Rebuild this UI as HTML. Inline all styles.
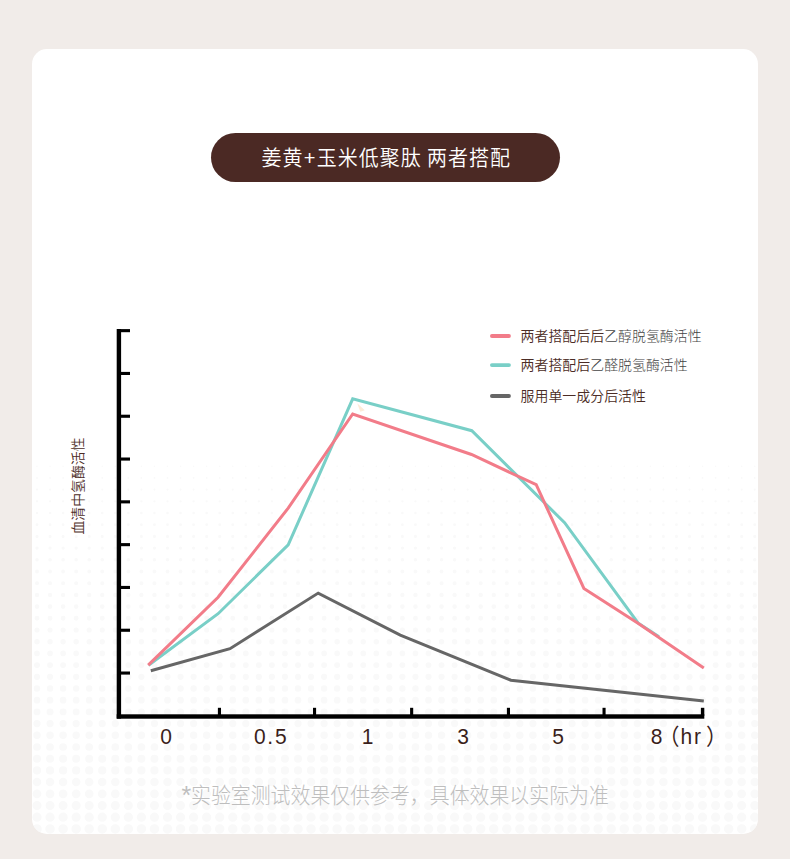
<!DOCTYPE html>
<html lang="zh-CN">
<head>
<meta charset="utf-8">
<title>姜黄+玉米低聚肽 两者搭配</title>
<style>
  html, body { margin: 0; padding: 0; }
  body {
    width: 790px; height: 859px; overflow: hidden; position: relative;
    background: #f1ece9;
    font-family: "Liberation Sans", "Noto Sans CJK SC", sans-serif;
  }
  .card {
    position: absolute; left: 32px; top: 48.5px; width: 726px; height: 785px;
    background: #ffffff; border-radius: 15px; overflow: hidden;
  }
  .pill {
    position: absolute; left: 211px; top: 132.5px; width: 349px; height: 49px; 
    border-radius: 24.5px; background: #4b2924;
    color: #ffffff; font-size: 20px; line-height: 50px; text-align: center;
    white-space: pre; font-weight: 350; letter-spacing: 1px; word-spacing: -1.2px; padding-left: 1.6px; box-sizing: border-box;
  }
  .pill .t { display: inline-block; transform: scaleY(1.05); transform-origin: 50% 50%; }
  svg.chart { position: absolute; left: 0; top: 0; }
  svg text { font-family: "Liberation Sans", "Noto Sans CJK SC", sans-serif; }
</style>
</head>
<body>
  <div class="card">
    <svg width="726" height="785" viewBox="32 48.5 726 785" style="position:absolute;left:0;top:0">
    <g stroke="#f9f9f9" stroke-linecap="round" stroke-dasharray="0 13.05" fill="none">
      <line x1="23.95" x2="772" y1="465.70" y2="465.70" stroke-width="1.53"/>
      <line x1="23.95" x2="772" y1="477.40" y2="477.40" stroke-width="1.79"/>
      <line x1="23.95" x2="772" y1="489.10" y2="489.10" stroke-width="2.05"/>
      <line x1="23.95" x2="772" y1="500.80" y2="500.80" stroke-width="2.31"/>
      <line x1="23.95" x2="772" y1="512.50" y2="512.50" stroke-width="2.56"/>
      <line x1="23.95" x2="772" y1="524.20" y2="524.20" stroke-width="2.82"/>
      <line x1="23.95" x2="772" y1="535.90" y2="535.90" stroke-width="3.08"/>
      <line x1="23.95" x2="772" y1="547.60" y2="547.60" stroke-width="3.34"/>
      <line x1="23.95" x2="772" y1="559.30" y2="559.30" stroke-width="3.59"/>
      <line x1="23.95" x2="772" y1="571.00" y2="571.00" stroke-width="3.85"/>
      <line x1="23.95" x2="772" y1="582.70" y2="582.70" stroke-width="4.11"/>
      <line x1="23.95" x2="772" y1="594.40" y2="594.40" stroke-width="4.36"/>
      <line x1="23.95" x2="772" y1="606.10" y2="606.10" stroke-width="4.62"/>
      <line x1="23.95" x2="772" y1="617.80" y2="617.80" stroke-width="4.88"/>
      <line x1="23.95" x2="772" y1="629.50" y2="629.50" stroke-width="5.14"/>
      <line x1="23.95" x2="772" y1="641.20" y2="641.20" stroke-width="5.39"/>
      <line x1="23.95" x2="772" y1="652.90" y2="652.90" stroke-width="5.65"/>
      <line x1="23.95" x2="772" y1="664.60" y2="664.60" stroke-width="5.91"/>
      <line x1="23.95" x2="772" y1="676.30" y2="676.30" stroke-width="6.17"/>
      <line x1="23.95" x2="772" y1="688.00" y2="688.00" stroke-width="6.42"/>
      <line x1="23.95" x2="772" y1="699.70" y2="699.70" stroke-width="6.68"/>
      <line x1="23.95" x2="772" y1="711.40" y2="711.40" stroke-width="6.94"/>
      <line x1="23.95" x2="772" y1="723.10" y2="723.10" stroke-width="7.20"/>
      <line x1="23.95" x2="772" y1="734.80" y2="734.80" stroke-width="7.45"/>
      <line x1="23.95" x2="772" y1="746.50" y2="746.50" stroke-width="7.71"/>
      <line x1="23.95" x2="772" y1="758.20" y2="758.20" stroke-width="7.97"/>
      <line x1="23.95" x2="772" y1="769.90" y2="769.90" stroke-width="8.23"/>
      <line x1="23.95" x2="772" y1="781.60" y2="781.60" stroke-width="8.48"/>
      <line x1="23.95" x2="772" y1="793.30" y2="793.30" stroke-width="8.74"/>
      <line x1="23.95" x2="772" y1="805.00" y2="805.00" stroke-width="9.00"/>
      <line x1="23.95" x2="772" y1="816.70" y2="816.70" stroke-width="9.26"/>
      <line x1="23.95" x2="772" y1="828.40" y2="828.40" stroke-width="9.51"/>
    </g>
    </svg>
  </div>

  <div class="pill"><span class="t">姜黄<span style="margin:0 0.2px 0 0.2px">+</span>玉米低聚肽 两者搭配</span></div>

  <svg class="chart" width="790" height="859" viewBox="0 0 790 859">
    <!-- axes -->
    <g fill="#000000">
      <rect x="116.7" y="329" width="4.4" height="389.6"/>
      <rect x="116.7" y="714.3" width="587.6" height="4.4"/>
      <!-- y ticks -->
      <rect x="118" y="329.1" width="12" height="3.1"/>
      <rect x="118" y="371.9" width="12" height="3.1"/>
      <rect x="118" y="414.7" width="12" height="3.1"/>
      <rect x="118" y="457.5" width="12" height="3.1"/>
      <rect x="118" y="500.3" width="12" height="3.1"/>
      <rect x="118" y="543.1" width="12" height="3.1"/>
      <rect x="118" y="585.9" width="12" height="3.1"/>
      <rect x="118" y="628.7" width="12" height="3.1"/>
      <rect x="118" y="671.5" width="12" height="3.1"/>
      <!-- x ticks -->
      <rect x="217.9" y="707.8" width="3.1" height="8"/>
      <rect x="313" y="707.8" width="3.1" height="8"/>
      <rect x="410.1" y="707.8" width="3.1" height="8"/>
      <rect x="506.9" y="707.8" width="3.1" height="8"/>
      <rect x="602.5" y="707.8" width="3.1" height="8"/>
      <rect x="700.9" y="707.8" width="3.4" height="8"/>
    </g>

    <!-- series -->
    <g fill="none" stroke-width="3" stroke-linejoin="miter" stroke-linecap="butt" transform="translate(0,0.3)">
      <polyline stroke="#79cfc7" points="148.5,665 218.1,613.4 288.2,544.6 352.7,398.5 471.8,430.4 564.6,522.4 638,622.7 659,636.4"/>
      <polyline stroke="#f27c89" points="148.2,664.8 218.1,597 288.2,507.8 352.7,413.7 471.5,454.2 536.2,484.4 583.9,588.2 638,623 703.8,667.6"/>
      <polyline stroke="#666666" stroke-width="3" points="150.8,670.4 230,648.4 318.2,592.8 400.3,634.9 510.9,679.9 703.8,700.6"/>
    </g>

    <polygon points="357.2,403.2 364.8,410.3 360.3,411.8" fill="#fdebd8"/>

    <!-- legend -->
    <g stroke-width="3.8" stroke-linecap="round">
      <line x1="491.9" y1="336" x2="509" y2="336" stroke="#f27c89"/>
      <line x1="491.9" y1="365.1" x2="509" y2="365.1" stroke="#79cfc7"/>
      <line x1="491.9" y1="396" x2="509" y2="396" stroke="#666666"/>
    </g>
    <g font-size="13.93" fill="#4b2c25" font-weight="350">
      <text x="520.6" y="340.8">两者搭配后后<tspan fill="#444444" font-weight="300">乙醇脱氢酶活性</tspan></text>
      <text x="520.6" y="370.2">两者搭配后<tspan fill="#444444" font-weight="300">乙醛脱氢酶活性</tspan></text>
      <text x="520.6" y="400.9">服用单一成分后活性</text>
    </g>

    <!-- y axis label -->
    <text font-size="13.4" fill="#4b2c25" font-weight="350" text-anchor="middle" transform="translate(83.4,486) rotate(-90) scale(1.035,1)">血清中氢酶活性</text>

    <!-- x labels -->
    <g font-size="21" fill="#3a1e1a" font-weight="400" text-anchor="middle" transform="translate(0,743.5) scale(1,1.08)">
      <text x="166" y="0">0</text>
      <text x="271.2" y="0" letter-spacing="1.8">0.5</text>
      <text x="367.7" y="0">1</text>
      <text x="463" y="0">3</text>
      <text x="558" y="0">5</text>
      <text x="650.8" y="0" text-anchor="start">8<tspan dx="-4" dy="1.1">（</tspan><tspan dx="1" dy="-1.1" letter-spacing="1.8">hr</tspan><tspan dx="3.4" dy="1.1">）</tspan></text>
    </g>

    <!-- footnote -->
    <text transform="translate(181.6,803.3) scale(1,1.06)" x="0" y="0" font-size="19.9" fill="#bebebe" font-weight="300"><tspan font-size="25" dy="0.4">*</tspan><tspan dy="-0.4" dx="-0.3">实验室测试效果仅供参考，具体效果以实际为准</tspan></text>
  </svg>
</body>
</html>
